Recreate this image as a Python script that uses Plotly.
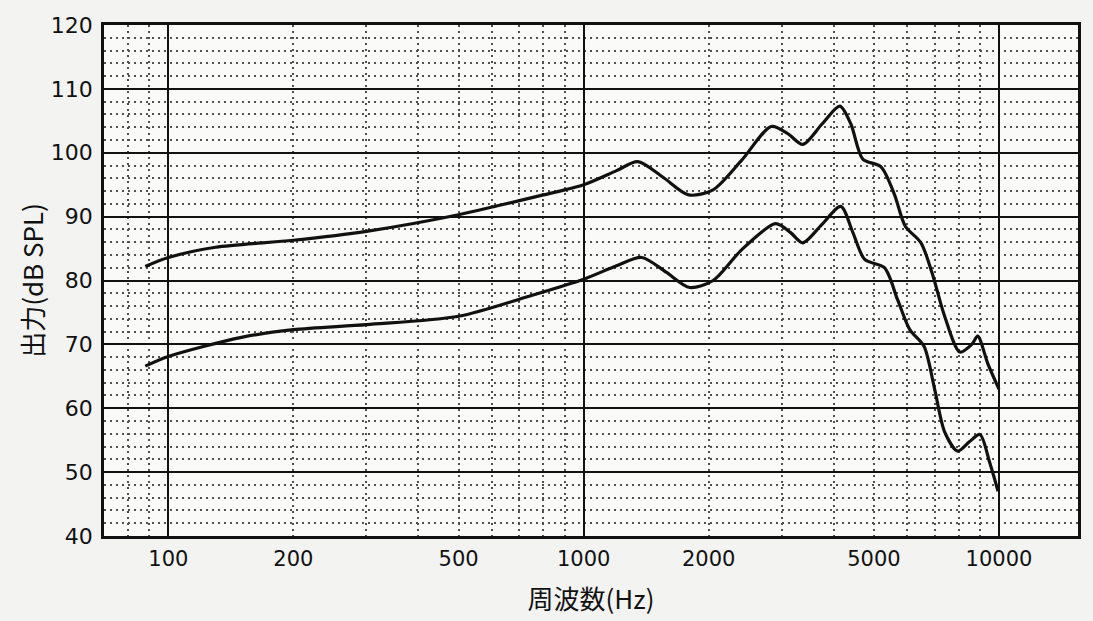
import math
import plotly.graph_objects as go

# ---- data ----
freq_upper = [88, 100, 130, 200, 300, 500, 620, 800, 1000, 1200, 1350, 1550, 1790, 2050,
              2400, 2830, 3100, 3370, 3750, 4140, 4400, 4700, 5200, 5600, 5950, 6490,
              6900, 7400, 8050, 8600, 8890, 9400, 10000]
spl_upper = [82.2, 83.6, 85.2, 86.3, 87.7, 90.3, 91.7, 93.4, 95.0, 97.2, 98.6, 96.2, 93.4,
             94.2, 98.8, 104.1, 103.0, 101.3, 104.5, 107.3, 104.5, 99.0, 97.8, 93.5,
             88.5, 85.9, 81.2, 74.4, 68.8, 70.0, 71.3, 67.0, 63.0]

freq_lower = [88, 100, 150, 200, 300, 500, 735, 1000, 1200, 1380, 1580, 1800, 2050, 2400,
              2900, 3150, 3370, 3750, 4160, 4450, 4750, 5300, 5700, 6100, 6600, 7000,
              7400, 7950, 8500, 9000, 9500, 9950]
spl_lower = [66.6, 68.1, 71.1, 72.3, 73.1, 74.4, 77.5, 80.2, 82.3, 83.6, 81.3, 78.9, 80.0,
             84.8, 88.9, 87.5, 85.9, 88.8, 91.6, 87.5, 83.3, 82.0, 77.0, 72.3, 69.7,
             63.0, 56.3, 53.3, 54.8, 55.9, 51.5, 47.0]

x_label_vals = [100, 200, 500, 1000, 2000, 5000, 10000]
x_major_grid = [100, 1000, 10000]
x_minor_grid = [80, 90, 200, 300, 400, 500, 600, 700, 800, 900,
                2000, 3000, 4000, 5000, 6000, 7000, 8000, 9000]
y_ticks = [40, 50, 60, 70, 80, 90, 100, 110, 120]

x_range = [math.log10(70), math.log10(15500)]
font_num = "DejaVu Sans, sans-serif"
font_cjk = "Noto Sans CJK JP, sans-serif"

fig = go.Figure()
fig.add_trace(go.Scatter(x=freq_upper, y=spl_upper, mode="lines",
                         line=dict(color="#111111", width=3.2, shape="spline", smoothing=0.8),
                         showlegend=False, hoverinfo="skip"))
fig.add_trace(go.Scatter(x=freq_lower, y=spl_lower, mode="lines", xaxis="x2",
                         line=dict(color="#111111", width=3.2, shape="spline", smoothing=0.8),
                         showlegend=False, hoverinfo="skip"))

fig.update_layout(
    width=1093, height=621,
    margin=dict(l=104, r=13, t=25, b=84),
    paper_bgcolor="#f3f3f1",
    plot_bgcolor="#fafaf8",
    font=dict(family=font_num, color="#111111", size=21),
    xaxis=dict(
        type="log", range=x_range,
        tickmode="array", tickvals=x_major_grid, showticklabels=False, ticks="",
        showgrid=True, gridcolor="#111111", gridwidth=2,
        minor=dict(tickmode="array", tickvals=x_minor_grid, showgrid=True,
                   gridcolor="#505050", gridwidth=1.6, griddash="2px,4px", ticks=""),
        showline=True, mirror=True, linecolor="#111111", linewidth=2.5,
        zeroline=False,
    ),
    xaxis2=dict(
        type="log", range=x_range, overlaying="x", side="bottom", anchor="y",
        tickmode="array", tickvals=x_label_vals,
        ticktext=[str(v) for v in x_label_vals],
        showgrid=False, ticks="", ticklen=0, ticklabelstandoff=8,
        tickfont=dict(size=21, family=font_num),
        title=dict(text="周波数(Hz)", font=dict(size=26, family=font_cjk), standoff=20),
        showline=False, zeroline=False,
    ),
    yaxis=dict(
        range=[40, 120], tickmode="array", tickvals=y_ticks,
        showgrid=True, gridcolor="#111111", gridwidth=2,
        minor=dict(dtick=2, showgrid=True, gridcolor="#505050", gridwidth=1.6,
                   griddash="2px,4px", ticks=""),
        ticks="", tickfont=dict(size=22, family=font_num), ticklabelstandoff=4,
        showline=True, mirror=True, linecolor="#111111", linewidth=2.5,
        title=dict(text="出力(dB SPL)", font=dict(size=26, family=font_cjk), standoff=0),
        zeroline=False,
    ),
)

fig.write_html("out.html")
